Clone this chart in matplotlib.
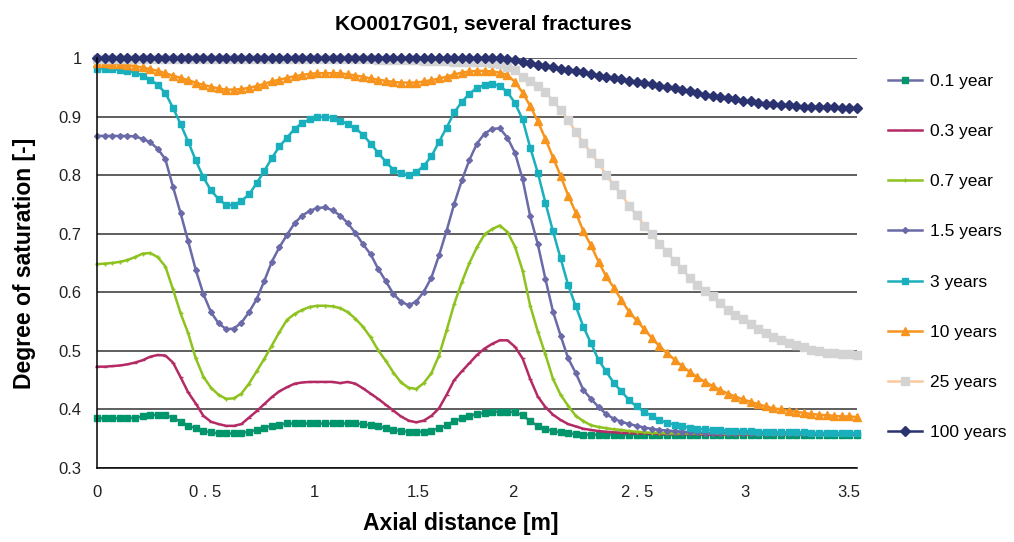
import matplotlib
matplotlib.use("Agg")
import matplotlib.pyplot as plt
import numpy as np

plt.rcParams["font.family"] = ["Liberation Sans", "DejaVu Sans"]

# axial positions of the model output (101 nodes over 3.5 m)
x = np.linspace(0, 3.5, 101)

labels = ["0.1 year", "0.3 year", "0.7 year", "1.5 years",
          "3 years", "10 years", "25 years", "100 years"]

s01 = [0.385, 0.385, 0.385, 0.385, 0.385, 0.386, 0.388, 0.390, 0.391, 0.390,
       0.386, 0.379, 0.372, 0.368, 0.363, 0.361, 0.359, 0.359, 0.359, 0.360,
       0.362, 0.365, 0.369, 0.372, 0.374, 0.376, 0.376, 0.376, 0.376, 0.376,
       0.376, 0.376, 0.376, 0.376, 0.376, 0.375, 0.373, 0.371, 0.368, 0.365,
       0.363, 0.362, 0.362, 0.362, 0.364, 0.368, 0.373, 0.380, 0.385, 0.389,
       0.392, 0.394, 0.396, 0.396, 0.396, 0.395, 0.390, 0.380, 0.372, 0.367,
       0.363, 0.361, 0.359, 0.358, 0.357, 0.357, 0.357, 0.357, 0.357, 0.357,
       0.357, 0.357, 0.357, 0.357, 0.357, 0.357, 0.357, 0.357, 0.357, 0.357,
       0.357, 0.357, 0.357, 0.357, 0.357, 0.357, 0.357, 0.357, 0.357, 0.357,
       0.357, 0.357, 0.357, 0.357, 0.357, 0.357, 0.357, 0.357, 0.357, 0.357,
       0.357]

s03 = [0.473, 0.473, 0.474, 0.475, 0.477, 0.480, 0.484, 0.490, 0.493, 0.492,
       0.480, 0.455, 0.429, 0.410, 0.389, 0.379, 0.375, 0.372, 0.372, 0.375,
       0.386, 0.397, 0.409, 0.421, 0.431, 0.438, 0.444, 0.446, 0.447, 0.447,
       0.447, 0.447, 0.445, 0.447, 0.444, 0.436, 0.427, 0.418, 0.408, 0.398,
       0.388, 0.381, 0.378, 0.381, 0.389, 0.402, 0.425, 0.450, 0.465, 0.479,
       0.493, 0.504, 0.512, 0.518, 0.518, 0.507, 0.487, 0.452, 0.422, 0.404,
       0.391, 0.382, 0.375, 0.371, 0.367, 0.365, 0.363, 0.362, 0.361, 0.360,
       0.360, 0.359, 0.359, 0.359, 0.358, 0.358, 0.358, 0.358, 0.358, 0.358,
       0.357, 0.357, 0.357, 0.357, 0.357, 0.357, 0.357, 0.357, 0.357, 0.357,
       0.357, 0.357, 0.357, 0.357, 0.357, 0.357, 0.357, 0.357, 0.357, 0.357,
       0.357]

s07 = [0.648, 0.649, 0.650, 0.652, 0.655, 0.660, 0.666, 0.667, 0.660, 0.644,
       0.605, 0.564, 0.530, 0.487, 0.456, 0.437, 0.425, 0.418, 0.419, 0.427,
       0.444, 0.465, 0.486, 0.509, 0.532, 0.553, 0.563, 0.570, 0.575, 0.577,
       0.577, 0.576, 0.573, 0.566, 0.555, 0.541, 0.523, 0.501, 0.483, 0.463,
       0.446, 0.437, 0.435, 0.445, 0.462, 0.492, 0.535, 0.580, 0.617, 0.650,
       0.677, 0.699, 0.708, 0.714, 0.703, 0.678, 0.637, 0.577, 0.533, 0.494,
       0.452, 0.425, 0.406, 0.389, 0.380, 0.373, 0.370, 0.368, 0.366, 0.365,
       0.363, 0.362, 0.361, 0.360, 0.360, 0.359, 0.359, 0.359, 0.359, 0.359,
       0.359, 0.359, 0.358, 0.358, 0.358, 0.358, 0.358, 0.358, 0.358, 0.358,
       0.358, 0.358, 0.358, 0.358, 0.358, 0.358, 0.358, 0.358, 0.358, 0.358,
       0.358]

s15 = [0.867, 0.867, 0.867, 0.867, 0.867, 0.866, 0.862, 0.856, 0.845, 0.827,
       0.780, 0.735, 0.687, 0.638, 0.597, 0.566, 0.547, 0.537, 0.538, 0.548,
       0.566, 0.588, 0.619, 0.652, 0.677, 0.698, 0.718, 0.731, 0.739, 0.744,
       0.745, 0.740, 0.731, 0.718, 0.701, 0.682, 0.665, 0.640, 0.619, 0.597,
       0.584, 0.578, 0.584, 0.601, 0.625, 0.663, 0.705, 0.751, 0.791, 0.826,
       0.854, 0.871, 0.879, 0.880, 0.864, 0.838, 0.793, 0.730, 0.682, 0.623,
       0.567, 0.526, 0.487, 0.462, 0.433, 0.418, 0.404, 0.392, 0.384, 0.379,
       0.375, 0.372, 0.369, 0.367, 0.365, 0.364, 0.363, 0.362, 0.361, 0.361,
       0.360, 0.360, 0.360, 0.360, 0.360, 0.360, 0.360, 0.360, 0.360, 0.360,
       0.360, 0.360, 0.360, 0.359, 0.359, 0.359, 0.359, 0.359, 0.359, 0.359,
       0.359]

s3 = [0.982, 0.982, 0.981, 0.980, 0.978, 0.975, 0.970, 0.963, 0.954, 0.940,
      0.915, 0.887, 0.857, 0.825, 0.796, 0.774, 0.759, 0.749, 0.749, 0.756,
      0.767, 0.786, 0.807, 0.829, 0.849, 0.864, 0.879, 0.889, 0.895, 0.899,
      0.900, 0.898, 0.893, 0.887, 0.880, 0.869, 0.854, 0.838, 0.823, 0.809,
      0.803, 0.800, 0.805, 0.816, 0.832, 0.857, 0.881, 0.907, 0.925, 0.939,
      0.949, 0.954, 0.956, 0.952, 0.942, 0.923, 0.895, 0.847, 0.804, 0.753,
      0.704, 0.658, 0.612, 0.576, 0.541, 0.513, 0.484, 0.465, 0.445, 0.431,
      0.416, 0.405, 0.396, 0.389, 0.382, 0.377, 0.374, 0.371, 0.369, 0.367,
      0.366, 0.365, 0.365, 0.364, 0.364, 0.363, 0.363, 0.362, 0.362, 0.362,
      0.361, 0.361, 0.361, 0.361, 0.360, 0.360, 0.360, 0.360, 0.360, 0.360,
      0.360]

s10 = [0.991, 0.991, 0.990, 0.989, 0.988, 0.986, 0.984, 0.981, 0.978, 0.974,
       0.970, 0.966, 0.962, 0.958, 0.954, 0.951, 0.948, 0.946, 0.946, 0.947,
       0.949, 0.952, 0.956, 0.960, 0.963, 0.966, 0.969, 0.971, 0.973, 0.974,
       0.974, 0.974, 0.974, 0.972, 0.970, 0.968, 0.965, 0.963, 0.961, 0.959,
       0.958, 0.958, 0.958, 0.960, 0.962, 0.965, 0.968, 0.972, 0.975, 0.977,
       0.978, 0.978, 0.977, 0.975, 0.971, 0.959, 0.941, 0.918, 0.892, 0.862,
       0.830, 0.799, 0.765, 0.736, 0.704, 0.680, 0.652, 0.627, 0.608, 0.587,
       0.567, 0.552, 0.537, 0.522, 0.508, 0.496, 0.485, 0.474, 0.464, 0.455,
       0.447, 0.440, 0.433, 0.427, 0.422, 0.417, 0.413, 0.409, 0.405, 0.402,
       0.400, 0.398, 0.396, 0.394, 0.392, 0.391, 0.390, 0.389, 0.388, 0.388,
       0.387]

s25 = [0.999, 0.999, 0.999, 0.999, 0.999, 0.999, 0.999, 0.999, 0.999, 0.999,
       0.999, 0.999, 0.999, 0.999, 0.999, 0.999, 0.999, 0.999, 0.999, 0.999,
       0.999, 0.999, 0.999, 0.999, 0.999, 0.999, 0.999, 0.999, 0.999, 0.999,
       0.999, 0.999, 0.998, 0.998, 0.998, 0.998, 0.998, 0.997, 0.997, 0.997,
       0.996, 0.996, 0.996, 0.995, 0.995, 0.995, 0.995, 0.994, 0.994, 0.994,
       0.994, 0.993, 0.992, 0.989, 0.985, 0.979, 0.968, 0.961, 0.953, 0.942,
       0.927, 0.911, 0.894, 0.874, 0.855, 0.838, 0.821, 0.800, 0.783, 0.767,
       0.748, 0.732, 0.714, 0.699, 0.683, 0.669, 0.653, 0.640, 0.624, 0.613,
       0.603, 0.593, 0.581, 0.570, 0.562, 0.554, 0.546, 0.538, 0.531, 0.524,
       0.518, 0.514, 0.510, 0.506, 0.502, 0.499, 0.497, 0.496, 0.495, 0.494,
       0.493]

s100 = [1.000, 1.000, 1.000, 1.000, 1.000, 1.000, 1.000, 1.000, 1.000, 1.000,
        1.000, 1.000, 1.000, 1.000, 1.000, 1.000, 1.000, 1.000, 1.000, 1.000,
        1.000, 1.000, 1.000, 1.000, 1.000, 1.000, 1.000, 1.000, 1.000, 1.000,
        1.000, 1.000, 1.000, 1.000, 1.000, 1.000, 1.000, 1.000, 1.000, 1.000,
        1.000, 1.000, 1.000, 1.000, 1.000, 1.000, 1.000, 1.000, 1.000, 1.000,
        1.000, 1.000, 1.000, 1.000, 0.999, 0.997, 0.994, 0.991, 0.988, 0.986,
        0.984, 0.981, 0.980, 0.977, 0.976, 0.973, 0.970, 0.968, 0.966, 0.964,
        0.961, 0.959, 0.957, 0.955, 0.953, 0.950, 0.948, 0.945, 0.943, 0.940,
        0.937, 0.935, 0.934, 0.931, 0.930, 0.927, 0.926, 0.924, 0.922, 0.921,
        0.920, 0.919, 0.918, 0.917, 0.917, 0.916, 0.916, 0.916, 0.915, 0.915,
        0.914]

series = [s01, s03, s07, s15, s3, s10, s25, s100]

# (line colour, marker, marker size, marker face colour)
styles = [
    ("#6C6CA6", "s", 4.5, "#00966B"),
    ("#B32A65", "_", 3.5, "#B32A65"),
    ("#8DC21F", "+", 3.5, "#8DC21F"),
    ("#6A6AA8", "D", 3.0, "#6A6AA8"),
    ("#1AAFBD", "s", 4.5, "#1AAFBD"),
    ("#F7941D", "^", 5.5, "#F7941D"),
    ("#FBC99B", "s", 5.5, "#D3D3D3"),
    ("#2A3270", "D", 4.6, "#2A3270"),
]

xtick_pos = [0, 0.5, 1.0, 1.48, 1.917, 2.49, 2.985, 3.46]
xtick_lab = ["0", "0 . 5", "1", "1.5", "2", "2 . 5", "3", "3.5"]
yticks = [0.3, 0.4, 0.5, 0.6, 0.7, 0.8, 0.9, 1.0]
ytick_lab = ["0.3", "0.4", "0.5", "0.6", "0.7", "0.8", "0.9", "1"]

fig = plt.figure(figsize=(10.14, 5.42), dpi=100)
ax = fig.add_axes([97 / 1014, 1 - 468 / 542, 760 / 1014, 410 / 542])

for y, lab, (lc, mk, ms, mf) in zip(series, labels, styles):
    ax.plot(x, y, color=lc, lw=1.8, marker=mk, ms=ms, mfc=mf, mec=mf,
            mew=1.0, label=lab, clip_on=False)

ax.set_xlim(0, 3.5)
ax.set_ylim(0.3, 1.0)
ax.set_xticks(xtick_pos)
ax.set_xticklabels(xtick_lab)
ax.set_yticks(yticks)
ax.set_yticklabels(ytick_lab)
ax.tick_params(axis="both", length=0, labelsize=12, colors="#222222")
ax.tick_params(axis="x", pad=12)
ax.tick_params(axis="y", pad=11)
ax.yaxis.grid(True, color="#333333", lw=1.1)
ax.set_axisbelow(True)
for side in ("top", "right"):
    ax.spines[side].set_visible(False)
for side in ("left", "bottom"):
    ax.spines[side].set_linewidth(1.1)

ax.set_title("KO0017G01, several fractures", fontsize=15, fontweight="bold",
             x=0.508, pad=20)
ax.set_xlabel("Axial distance [m]", fontsize=16.5, fontweight="bold")
ax.xaxis.set_label_coords(0.479, -0.107)
ax.set_ylabel("Degree of saturation [-]", fontsize=16.5, fontweight="bold")
ax.yaxis.set_label_coords(-0.080, 0.5)

fig.legend(loc="upper left", bbox_to_anchor=(0.869, 0.877), frameon=False,
           fontsize=12.5, labelspacing=2.02, handlelength=1.96,
           handletextpad=0.46, borderaxespad=0)

fig.savefig("out.png", dpi=100)
plt.close(fig)
